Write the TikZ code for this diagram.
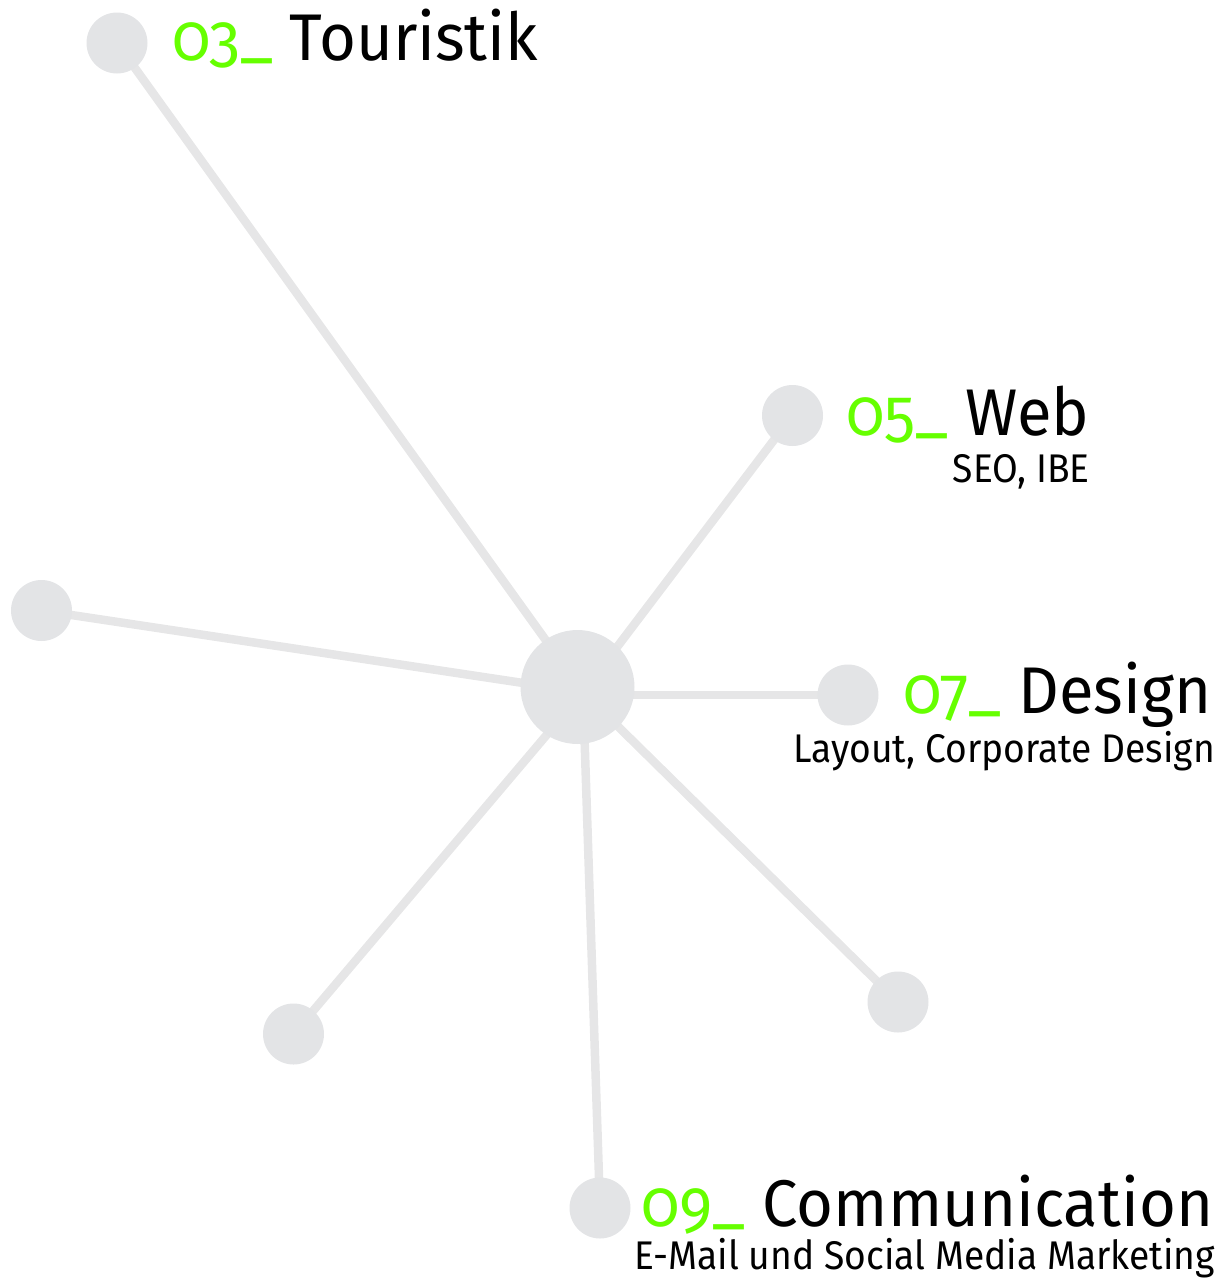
\documentclass[tikz,border=0pt]{standalone}
\usepackage{fontspec}
\setmainfont{Fira Sans}[FakeStretch=0.96]
\newfontfamily\numfont{Fira Sans}[Numbers=OldStyle,FakeStretch=0.96]
\newfontfamily\subfont{Fira Sans}[FakeStretch=0.93]
\definecolor{dotgray}{RGB}{227,228,230}
\definecolor{linegray}{RGB}{230,230,231}
\definecolor{lime}{RGB}{102,255,0}
\tikzset{
  dot/.style={circle,fill=dotgray,draw=none,minimum size=61pt,inner sep=0pt},
  hub/.style={circle,fill=dotgray,draw=none,minimum size=114pt,inner sep=0pt},
  spoke/.style={draw=linegray,line width=8.5pt},
  title/.style={inner sep=0pt,font=\fontsize{66}{66}\selectfont,anchor=base west},
  sub/.style={inner sep=0pt,font=\subfont\fontsize{40}{40}\selectfont,anchor=base east},
}
\newcommand{\num}[1]{{\numfont\color{lime}#1\raisebox{6pt}{\_}}}
\begin{document}
\begin{tikzpicture}[x=1pt,y=-1pt]
\useasboundingbox (0,0) rectangle (1223,1280);
\coordinate (c) at (577.5,687);
\coordinate (hc) at (583,692);
\coordinate (t) at (117,43);
\coordinate (w) at (792.5,415.5);
\coordinate (l) at (41.5,610.5);
\coordinate (d) at (848,695);
\coordinate (bl) at (293.5,1034);
\coordinate (br) at (898,1002);
\coordinate (cm) at (600,1208);
\foreach \p in {t,w,l,bl,br,cm} \draw[spoke] (hc) -- (\p);
\draw[spoke] (c |- d) -- (d);
\node[hub] (hubn) at (c) {};
\node[dot] (tn) at (t) {};
\node[dot] (wn) at (w) {};
\node[dot] (ln) at (l) {};
\node[dot] (dn) at (d) {};
\node[dot] (bln) at (bl) {};
\node[dot] (brn) at (br) {};
\node[dot] (cmn) at (cm) {};
\node[title] (tt) at (172,60) {\num{03} Touristik};
\node[title] (wt) at (846,435) {\num{05} Web};
\node[sub] (ws) at (1090,482) {SEO, IBE};
\node[title] (dt) at (903,713) {\num{07} Design};
\node[sub] (ds) at (1215,762) {Layout, Corporate Design};
\node[title] (ct) at (641,1226) {\num{09} Communication};
\node[sub] (cs) at (1215,1269) {E-Mail und Social Media Marketing};
\end{tikzpicture}
\end{document}
